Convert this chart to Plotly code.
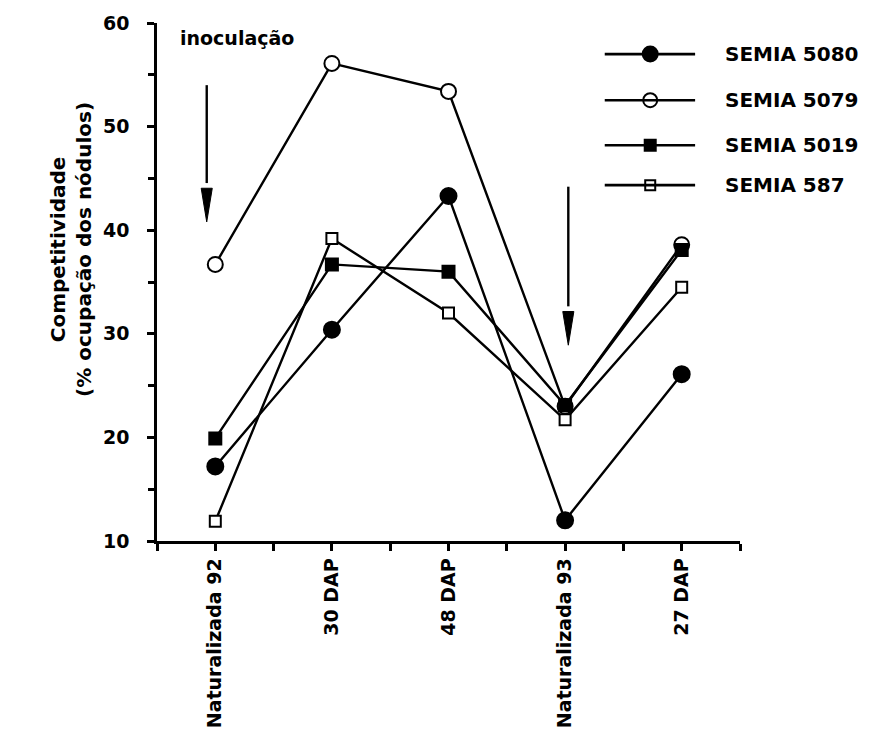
import plotly.graph_objects as go

# Sampling moments (x axis categories)
categories = ["Naturalizada 92", "30 DAP", "48 DAP", "Naturalizada 93", "27 DAP"]
x_pos = list(range(len(categories)))

# Competitividade (% ocupação dos nódulos) per strain
semia_5080 = [17.2, 30.4, 43.3, 12.0, 26.1]
semia_5079 = [36.7, 56.1, 53.4, 23.0, 38.6]
semia_5019 = [19.9, 36.7, 36.0, 23.1, 38.1]
semia_587 = [11.9, 39.2, 32.0, 21.7, 34.5]

y_ticks = [10, 20, 30, 40, 50, 60]

series = [
    ("SEMIA 5080", semia_5080, "circle", 16, "black"),
    ("SEMIA 5079", semia_5079, "circle", 15, "white"),
    ("SEMIA 5019", semia_5019, "square", 12, "black"),
    ("SEMIA 587", semia_587, "square", 11, "white"),
]

FONT = "DejaVu Sans"
BOLD = dict(family=FONT, color="black", weight="bold")
fig = go.Figure()

for name, vals, sym, size, fill in series:
    fig.add_trace(go.Scatter(
        x=x_pos, y=vals, name=name, mode="lines+markers",
        line=dict(color="black", width=2.4),
        marker=dict(symbol=sym, size=size, color=fill,
                    line=dict(color="black", width=2)),
        showlegend=False, cliponaxis=False,
    ))

# Legend drawn as line - marker - line followed by the label
leg_rows = [0.940, 0.851, 0.764, 0.687]
leg_x0, leg_xm, leg_x1, leg_tx = 0.768, 0.846, 0.923, 0.971
for (name, vals, sym, size, fill), ry in zip(series, leg_rows):
    fig.add_shape(type="line", xref="paper", yref="paper",
                  x0=leg_x0, x1=leg_x1, y0=ry, y1=ry,
                  line=dict(color="black", width=2.6))
    fig.add_trace(go.Scatter(
        x=[leg_xm], y=[ry], xaxis="x2", yaxis="y2", mode="markers",
        marker=dict(symbol=sym, size=size - 1, color=fill, opacity=1,
                    line=dict(color="black", width=2)),
        showlegend=False, hoverinfo="skip", cliponaxis=False,
    ))
    fig.add_annotation(x=leg_tx, y=ry, xref="paper", yref="paper",
                       text=name, showarrow=False, xanchor="left", yanchor="middle",
                       font=dict(size=20, **BOLD))

# Inoculation label and the two downward arrows (shaft + narrow head)
fig.add_annotation(x=0.036, y=0.971, xref="paper", yref="paper", text="inoculação",
                   showarrow=False, xanchor="left", yanchor="middle",
                   font=dict(size=19, **BOLD))
arrows = [(0.0853, 0.880, 0.681, 0.616), (0.7055, 0.684, 0.443, 0.378)]
half_w = 0.0095
for ax_x, y_top, y_base, y_tip in arrows:
    fig.add_shape(type="line", xref="paper", yref="paper",
                  x0=ax_x, x1=ax_x, y0=y_top, y1=y_base + 0.01,
                  line=dict(color="black", width=2.4))
    fig.add_shape(type="path", xref="paper", yref="paper",
                  path=f"M {ax_x - half_w} {y_base} L {ax_x + half_w} {y_base} L {ax_x} {y_tip} Z",
                  fillcolor="black", line=dict(color="black", width=1))

# Y axis title (two lines)
fig.add_annotation(x=-0.1475, y=0.562, xref="paper", yref="paper",
                   text="Competitividade<br>(% ocupação dos nódulos)",
                   textangle=-90, showarrow=False, xanchor="center", yanchor="middle",
                   font=dict(size=20, **BOLD))

fig.update_layout(
    width=879, height=739,
    margin=dict(l=157, r=139, t=23, b=198, autoexpand=False),
    paper_bgcolor="white", plot_bgcolor="white",
    xaxis=dict(
        range=[-0.5, 4.5], tickvals=x_pos, ticktext=categories, tickangle=-90,
        automargin=False,
        showline=True, linecolor="black", linewidth=2.5, showgrid=False, zeroline=False,
        ticks="outside", ticklen=7, tickwidth=2.5, tickcolor="black",
        minor=dict(tickvals=[-0.5, 0.5, 1.5, 2.5, 3.5, 4.5], ticks="outside",
                   ticklen=7, tickwidth=2.5, tickcolor="black"),
        tickfont=dict(size=19, **BOLD),
        ticklabelstandoff=0,
    ),
    yaxis=dict(
        range=[10, 60], tickvals=y_ticks, automargin=False,
        showline=True, linecolor="black", linewidth=2.5, showgrid=False, zeroline=False,
        ticks="outside", ticklen=7, tickwidth=2.5, tickcolor="black",
        minor=dict(tickvals=[15, 25, 35, 45, 55], ticks="outside",
                   ticklen=6, tickwidth=2.5, tickcolor="black"),
        tickfont=dict(size=19, **BOLD),
        ticklabelstandoff=14,
    ),
    xaxis2=dict(overlaying="x", range=[0, 1], visible=False, fixedrange=True),
    yaxis2=dict(overlaying="y", range=[0, 1], visible=False, fixedrange=True),
)

fig.write_html("out.html")
